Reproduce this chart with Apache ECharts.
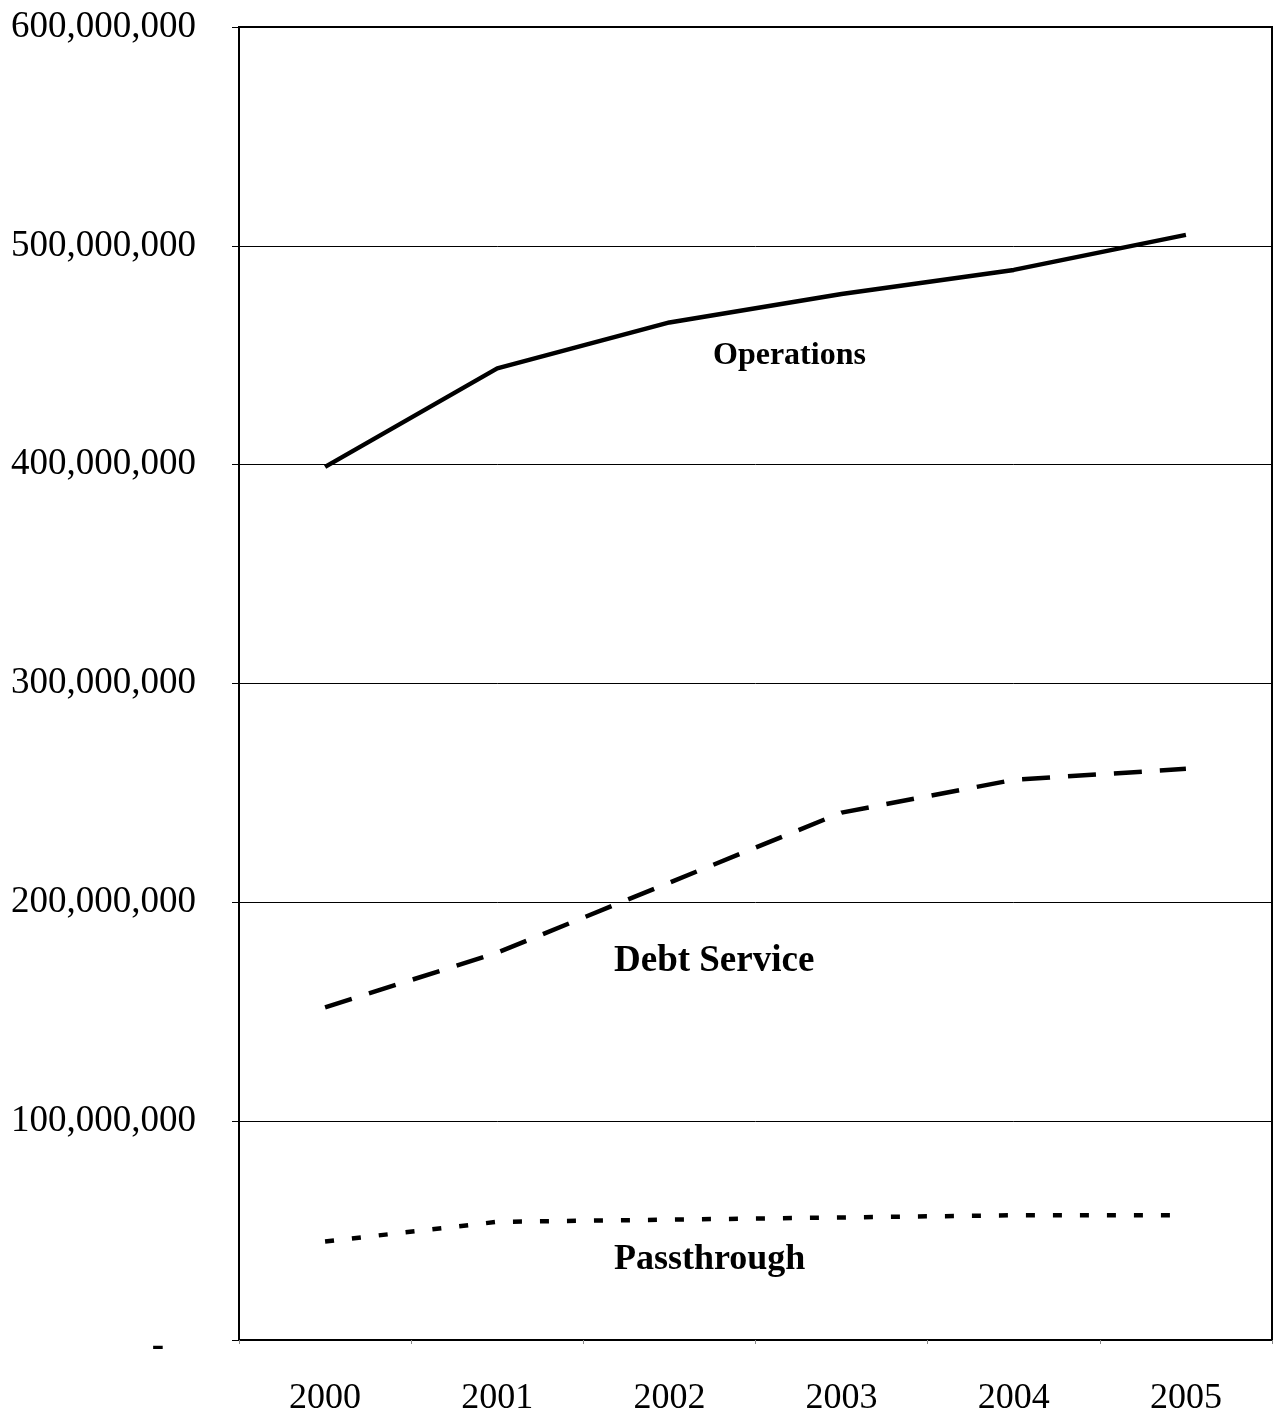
<!DOCTYPE html>
<html>
<head>
<meta charset="utf-8">
<script src="https://cdn.jsdelivr.net/npm/echarts@6/dist/echarts.min.js"></script>
<style>
  html, body { margin: 0; padding: 0; background: #fff; }
  #chart { width: 1275px; height: 1417px; }
</style>
</head>
<body>
<div id="chart"></div>
<script>
// Fiscal years on the horizontal axis
const years = ['2000', '2001', '2002', '2003', '2004', '2005'];

// Annual spending by category (dollars)
const operations  = [399000000, 444000000, 465000000, 478000000, 489000000, 505000000];
const debtService = [152000000, 177000000, 209000000, 241000000, 256000000, 261000000];
const passthrough = [45000000, 54000000, 55000000, 56000000, 57000000, 57000000];

// Value axis tick labels
const yTickLabels = ['-', '100,000,000', '200,000,000', '300,000,000', '400,000,000', '500,000,000', '600,000,000'];

const SERIF = '"Liberation Serif", "Times New Roman", serif';

const chart = echarts.init(document.getElementById('chart'), null, { renderer: 'canvas' });

chart.setOption({
  backgroundColor: '#ffffff',
  animation: false,
  grid: {
    left: 239, right: 3, top: 27, bottom: 76,
    show: true, borderColor: '#000', borderWidth: 2, backgroundColor: 'transparent'
  },
  xAxis: {
    type: 'category',
    data: years,
    boundaryGap: true,
    axisLine: { lineStyle: { color: '#000', width: 2 } },
    axisTick: { show: true, length: 4, lineStyle: { color: '#888', width: 1 } },
    axisLabel: { color: '#000', fontFamily: SERIF, fontSize: 36, margin: 41 }
  },
  yAxis: {
    type: 'value',
    min: 0, max: 600000000, interval: 100000000,
    axisLine: { show: true, lineStyle: { color: '#000', width: 2 } },
    axisTick: { show: true, length: 7, lineStyle: { color: '#000', width: 1 } },
    splitLine: { show: true, lineStyle: { color: '#000', width: 1 } },
    axisLabel: {
      color: '#000', fontFamily: SERIF, fontSize: 37, margin: 43,
      formatter: function (v) {
        const s = yTickLabels[Math.round(v / 100000000)];
        return s === '-' ? '{z|-}' : s;
      },
      rich: {
        z: { fontFamily: SERIF, fontSize: 37, fontWeight: 'bold', padding: [12, 32, 0, 0] }
      }
    }
  },
  series: [
    {
      name: 'Operations', type: 'line', data: operations,
      symbol: 'none', smooth: false,
      lineStyle: { color: '#000', width: 4.5, type: 'solid' }
    },
    {
      name: 'Debt Service', type: 'line', data: debtService,
      symbol: 'none',
      lineStyle: { color: '#000', width: 4.5, type: [28, 18] }
    },
    {
      name: 'Passthrough', type: 'line', data: passthrough,
      symbol: 'none',
      lineStyle: { color: '#000', width: 4.5, type: [9, 18] }
    }
  ],
  graphic: [
    {
      type: 'text', left: 713, top: 340,
      style: { text: 'Operations', font: 'bold 32px ' + SERIF, fill: '#000' }
    },
    {
      type: 'text', left: 614, top: 943,
      style: { text: 'Debt Service', font: 'bold 37px ' + SERIF, fill: '#000' }
    },
    {
      type: 'text', left: 614, top: 1242,
      style: { text: 'Passthrough', font: 'bold 36px ' + SERIF, fill: '#000' }
    }
  ]
});
</script>
</body>
</html>
